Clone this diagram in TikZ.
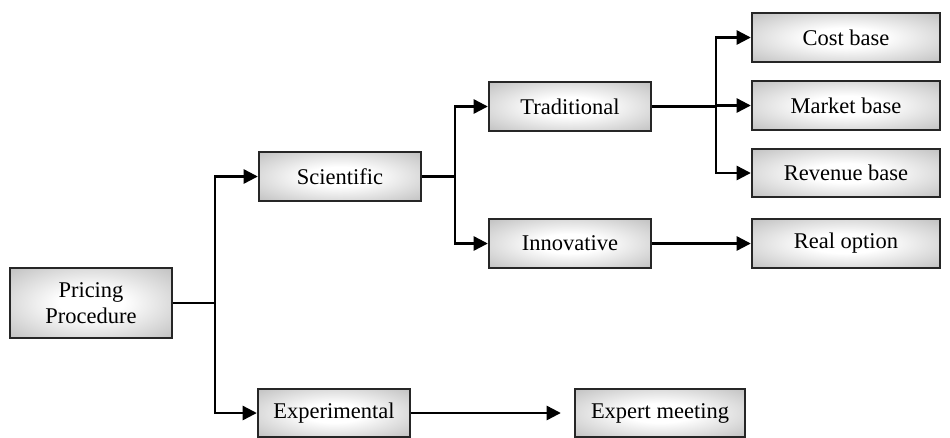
\documentclass[tikz,border=0pt]{standalone}
\usepackage{fontspec}
\setmainfont{Liberation Serif}
\usetikzlibrary{arrows.meta}
\pgfdeclareradialshading{boxglow}{\pgfpoint{0bp}{0bp}}{color(0bp)=(white); color(10bp)=(white); color(50bp)=(black!38); color(72bp)=(black!60)}
\tikzset{
  stage/.style={draw=black!85, line width=1.4pt, rectangle, align=center, inner sep=0pt,
    shading=boxglow, minimum width=3.24cm, minimum height=0.97cm,
    font=\fontsize{12.8}{15}\selectfont},
  leaf/.style={stage, minimum width=3.76cm},
  link/.style={line width=1.3pt},
  flow/.style={link, -{Triangle[length=8pt,width=8pt]}}
}
\begin{document}
\begin{tikzpicture}[x=0.02cm,y=-0.02cm]
\useasboundingbox (0,0) rectangle (950,437);
\node[stage, shade, minimum height=1.4cm] (pricing) at (91,303) {Pricing\\Procedure};
\node[stage, shade] (scientific) at (340,176.5) {Scientific};
\node[stage, shade, minimum width=3.04cm] (experimental) at (334,413) {Experimental};
\node[stage, shade, minimum width=3.4cm] (expert) at (660,413) {Expert meeting};
\node[stage, shade] (traditional) at (570,106.5) {Traditional};
\node[stage, shade] (innovative) at (570,243.5) {Innovative};
\node[leaf, shade] (cost) at (846,37.5) {Cost base};
\node[leaf, shade] (market) at (846,105.5) {Market base};
\node[leaf, shade] (revenue) at (846,173) {Revenue base};
\node[leaf, shade] (realopt) at (846,243.5) {Real option};

\coordinate (split1) at (215,303);
\coordinate (split2) at (455,176.5);
\coordinate (split3) at (716,106.5);

\draw[link] (pricing) -- (split1);
\draw[flow] (split1) |- (scientific.west);
\draw[flow] (split1) |- (experimental.west);
\draw[flow, shorten >=0.26cm] (experimental) -- (expert);
\draw[link] (scientific) -- (split2);
\draw[flow] (split2) |- (traditional.west);
\draw[flow] (split2) |- (innovative.west);
\draw[link] (traditional) -- (split3);
\draw[flow] (split3) |- (cost.west);
\draw[flow] (split3) |- (market.west);
\draw[flow] (split3) |- (revenue.west);
\draw[flow] (innovative) -- (realopt);
\end{tikzpicture}
\end{document}
